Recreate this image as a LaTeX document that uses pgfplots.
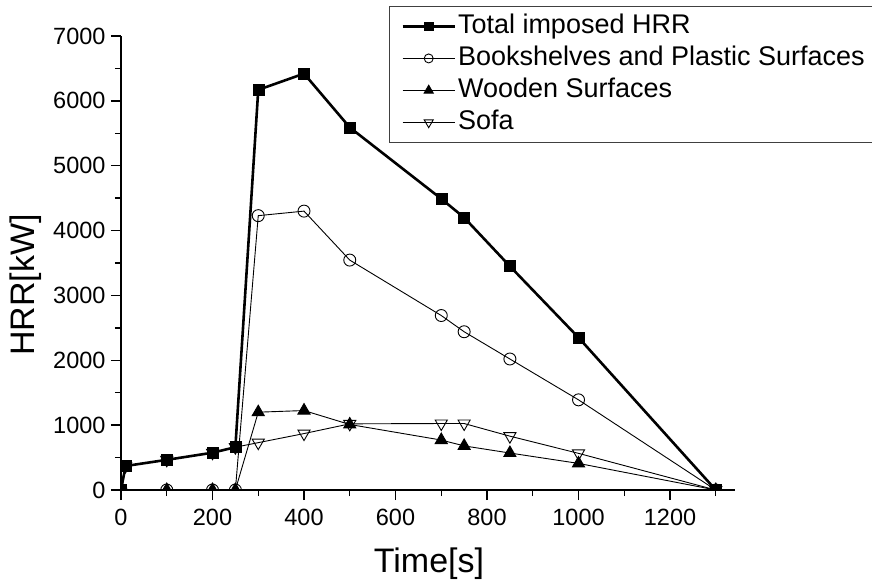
\documentclass[border=0pt]{standalone}
\usepackage{pgfplots}
\pgfplotsset{compat=1.18}
\usepackage{fontspec}
\setmainfont{Liberation Sans}

% HRR curves: total and per fuel item
\pgfplotstableread{
t    hrr
0    0
10   370
100  465
200  575
250  660
300  6170
400  6420
500  5590
700  4490
750  4200
850  3450
1000 2350
1300 0
}\total
\pgfplotstableread{
t    hrr
0    0
100  0
200  0
250  0
300  4230
400  4300
500  3545
700  2690
750  2440
850  2020
1000 1390
1300 0
}\books
\pgfplotstableread{
t    hrr
0    0
100  0
200  0
250  0
300  1200
400  1225
500  1010
700  770
750  680
850  570
1000 410
1300 0
}\wood
\pgfplotstableread{
t    hrr
10   370
100  465
200  575
250  660
300  730
400  870
500  1020
700  1025
750  1025
850  830
1000 565
1300 0
}\sofa

\begin{document}
\begin{tikzpicture}
\begin{axis}[
  at={(0pt,0pt)}, anchor=south west,
  scale only axis, width=614pt, height=454pt,
  xmin=0, xmax=1342, ymin=0, ymax=7000,
  axis lines*=left,
  axis line style={line width=1.4pt},
  xtick={0,200,...,1200}, minor xtick={100,300,...,1300},
  ytick={0,1000,...,7000}, minor ytick={500,1500,...,6500},
  tick align=outside,
  major tick length=10pt, minor tick length=6pt,
  every tick/.style={black, line width=1.4pt},
  ticklabel style={font=\fontsize{23.5}{26}\selectfont},
  xticklabel style={yshift=-6pt},
  yticklabel style={xshift=-2pt},
  /pgf/number format/assume math mode=true,
  /pgf/number format/1000 sep={},
  scaled y ticks=false,
  xlabel={Time[s]}, ylabel={HRR[kW]},
  label style={font=\fontsize{34}{37}\selectfont},
  xlabel style={at={(axis description cs:0.5016,-0.162)}, anchor=center},
  ylabel style={at={(axis description cs:-0.156,0.4515)}, anchor=center},
  clip=true, clip marker paths=true,
  legend cell align=left,
  legend style={at={(axis description cs:0.4365,1.066)}, anchor=north west,
    draw=black!75, line width=0.8pt, font=\fontsize{27}{29}\selectfont,
    inner xsep=12pt, inner ysep=4pt, row sep=0pt,
    nodes={text height=20pt, text depth=6pt, inner ysep=3pt}},
  legend image code/.code={\draw[mark repeat=2,mark phase=2,
      every mark/.append style={scale=0.75}]
    plot coordinates {(0pt,0pt) (26pt,0pt) (52pt,0pt)};},
]
\addplot[black, line width=2.6pt, mark=square*, mark size=5.5pt,
  mark options={line width=0.5pt}] table {\total};
\addlegendentry{Total imposed HRR}
\addplot[black, line width=0.9pt, mark=o, mark size=6pt,
  mark options={fill=white}] table {\books};
\addlegendentry{Bookshelves and Plastic Surfaces}
\addplot[black, line width=0.9pt, mark=triangle*, mark size=7pt] table {\wood};
\addlegendentry{Wooden Surfaces}
\addplot[black, line width=0.9pt, mark=triangle, mark size=7pt,
  mark options={fill=white, rotate=180}] table {\sofa};
\addlegendentry{Sofa}
\end{axis}
\pgfresetboundingbox
\useasboundingbox (-121pt,-93pt) rectangle (751pt,490pt);
\end{tikzpicture}
\end{document}
